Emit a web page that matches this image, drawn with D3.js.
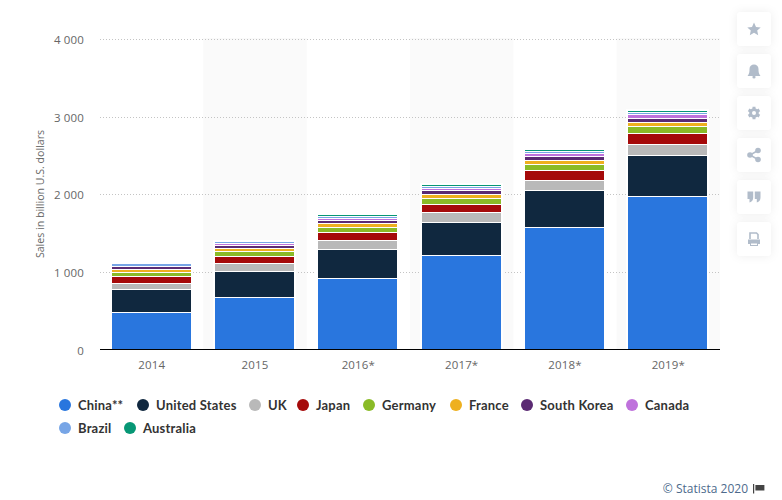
<!DOCTYPE html>
<html lang="en">
    <head>
        <title>E-commerce sales</title>
        <meta charset="UTF-8">
        <style>
            html, body { margin: 0; padding: 0; background: #fff; }
            svg { display: block; }
            text { font-family: "Open Sans", sans-serif; }
            .tick-label { font-size: 11.5px; fill: #666; letter-spacing: 0.15px; }
            .legend-label { font-family: Lato, sans-serif; font-size: 13px; font-weight: 700; fill: #333; letter-spacing: 0.2px; }
            .bar { shape-rendering: crispEdges; }
        </style>
        <script src="https://cdnjs.cloudflare.com/ajax/libs/d3/7.8.5/d3.min.js"></script>
    </head>
    <body>
        <svg id="vis"></svg>

        <script>
            var years = ["2014", "2015", "2016*", "2017*", "2018*", "2019*"];

            var china = [463, 656, 900, 1196, 1556, 1955];
            var unitedStates = [298, 337, 375, 425, 475, 528];
            var uk = [77, 103, 116, 129, 129, 141];
            var japan = [90, 90, 103, 103, 129, 141];
            var germany = [51, 64, 64, 77, 77, 90];
            var france = [39, 39, 51, 51, 51, 51];
            var southKorea = [39, 39, 39, 51, 51, 51];
            var canada = [0, 26, 26, 26, 39, 51];
            var brazil = [39, 26, 26, 26, 26, 26];
            var australia = [0, 0, 26, 26, 26, 26];

            var seriesNames = ["China**", "United States", "UK", "Japan", "Germany", "France", "South Korea", "Canada", "Brazil", "Australia"];
            var seriesValues = [china, unitedStates, uk, japan, germany, france, southKorea, canada, brazil, australia];
            var seriesColors = ["#2976de", "#10283f", "#b9b9b9", "#a50a0a", "#8abb27", "#eeb01f", "#5b2a73", "#bf72dc", "#77a5e6", "#079775"];
            var yTicks = [0, 1000, 2000, 3000, 4000];

            var table = years.map(function(year, i) {
                var row = {year: year};
                seriesNames.forEach(function(name, s) { row[name] = seriesValues[s][i]; });
                return row;
            });

            var svg = d3.select("#vis").attr("width", 782).attr("height", 500);

            var x = d3.scaleBand().domain(years).range([100, 720]).paddingInner(0.235).paddingOuter(0.1175);
            var y = d3.scaleLinear().domain([0, 4000]).range([349.5, 38.5]);

            // snap to whole pixels so the gaps between segments stay sharp
            var barLeft = function(year) { return Math.floor(x(year)); };
            var barWidth = Math.floor(x.bandwidth());
            var barY = function(v) { return Math.round(y(v) - 0.5); };
            var total = function(d) { return d3.sum(seriesNames, function(n) { return d[n]; }); };

            // alternating column shading
            svg.append("g").selectAll("rect")
                .data(years.filter(function(d, i) { return i % 2 == 1; }))
                .join("rect")
                .attr("x", function(d) { return x(d) - x.step() * 0.1175; })
                .attr("width", x.step())
                .attr("y", 38)
                .attr("height", 311)
                .attr("fill", "#fafafa");

            // grid
            svg.append("g").selectAll("line")
                .data(yTicks.slice(1))
                .join("line")
                .attr("x1", 100).attr("x2", 720)
                .attr("y1", function(d) { return Math.ceil(y(d)) + 0.5; })
                .attr("y2", function(d) { return Math.ceil(y(d)) + 0.5; })
                .attr("stroke", "#c4c4c4")
                .attr("stroke-dasharray", "1 2");

            // white halo behind each bar
            svg.append("g").selectAll("rect")
                .data(table)
                .join("rect")
                .attr("class", "bar")
                .attr("x", function(d) { return barLeft(d.year) - 2; })
                .attr("width", barWidth + 4)
                .attr("y", function(d) { return barY(total(d)) - 2; })
                .attr("height", function(d) { return barY(0) - barY(total(d)) + 2; })
                .attr("fill", "#fff");

            var stack = d3.stack().keys(seriesNames);

            // each segment leaves a 1px gap to the one below it
            svg.append("g").selectAll("g")
                .data(stack(table))
                .join("g")
                .attr("fill", function(d, i) { return seriesColors[i]; })
                .selectAll("rect")
                .data(function(d) { return d.filter(function(p) { return p[1] > p[0]; }); })
                .join("rect")
                .attr("class", "bar")
                .attr("x", function(d) { return barLeft(d.data.year); })
                .attr("width", barWidth)
                .attr("y", function(d) { return barY(d[1]); })
                .attr("height", function(d) {
                    var gap = d[0] > 0 ? 1 : 0;
                    return barY(d[0]) - barY(d[1]) - gap;
                });

            // baseline
            svg.append("line")
                .attr("x1", 100).attr("x2", 720)
                .attr("y1", 349.5).attr("y2", 349.5)
                .attr("stroke", "#000").attr("stroke-width", 1);

            var numFormat = function(d) { return d3.format(",")(d).replace(",", " "); };

            svg.append("g").selectAll("text")
                .data(yTicks)
                .join("text")
                .attr("class", "tick-label")
                .attr("x", 84)
                .attr("y", function(d) { return Math.ceil(y(d)) + 4.5; })
                .attr("text-anchor", "end")
                .text(numFormat);

            svg.append("g").selectAll("text")
                .data(years)
                .join("text")
                .attr("class", "tick-label")
                .attr("x", function(d) { return x(d) + x.bandwidth() / 2; })
                .attr("y", 369)
                .attr("text-anchor", "middle")
                .text(function(d) { return d; });

            svg.append("text")
                .attr("transform", "translate(44,194) rotate(-90)")
                .attr("text-anchor", "middle")
                .attr("font-size", 10.6)
                .attr("fill", "#666")
                .text("Sales in billion U.S. dollars");

            // legend, laid out in two rows like the original
            var legendX = [65, 143, 255, 303, 369, 456, 527, 632, 65, 130];
            var legendY = [405, 405, 405, 405, 405, 405, 405, 405, 428, 428];
            var legend = svg.append("g").selectAll("g")
                .data(seriesNames)
                .join("g")
                .attr("transform", function(d, i) { return "translate(" + legendX[i] + "," + legendY[i] + ")"; });
            legend.append("circle").attr("r", 6).attr("fill", function(d, i) { return seriesColors[i]; });
            legend.append("text")
                .attr("class", "legend-label")
                .attr("x", 13)
                .attr("y", 4.5)
                .text(function(d) { return d; });

            svg.append("text")
                .attr("x", 748).attr("y", 493)
                .attr("text-anchor", "end")
                .attr("font-size", 12)
                .attr("fill", "#4d6a8c")
                .text("© Statista 2020");

            // flag next to the credit
            var flag = svg.append("g").attr("transform", "translate(753,484)").attr("fill", "#444");
            flag.append("rect").attr("width", 1.2).attr("height", 9.5);
            flag.append("rect").attr("x", 2.4).attr("y", 1).attr("width", 9).attr("height", 5.5);

            // toolbar on the right
            var defs = svg.append("defs");
            var shadow = defs.append("filter").attr("id", "card").attr("x", "-50%").attr("y", "-50%").attr("width", "200%").attr("height", "200%");
            shadow.append("feDropShadow").attr("dx", 0).attr("dy", 0).attr("stdDeviation", 5).attr("flood-color", "#000").attr("flood-opacity", 0.07);

            var tools = ["star", "bell", "gear", "share", "quote", "print"];
            var iconColor = "#b1bcca";
            var card = svg.append("g").selectAll("g")
                .data(tools)
                .join("g")
                .attr("transform", function(d, i) { return "translate(754," + (29 + i * 42) + ")"; });
            card.append("rect")
                .attr("x", -17).attr("y", -17).attr("width", 34).attr("height", 34).attr("rx", 4)
                .attr("fill", "#fff").attr("filter", "url(#card)");

            card.each(function(d) {
                var g = d3.select(this).attr("fill", iconColor);
                if (d == "star") {
                    g.append("path").attr("d", "M0,-6.5 L2,-2 L6.7,-1.6 L3.2,1.5 L4.2,6.2 L0,3.7 L-4.2,6.2 L-3.2,1.5 L-6.7,-1.6 L-2,-2 Z");
                } else if (d == "bell") {
                    g.append("path").attr("d", "M-6.5,5 C-4.5,3 -4.5,0 -4.5,-2 C-4.5,-5 -2.5,-6.5 0,-6.5 C2.5,-6.5 4.5,-5 4.5,-2 C4.5,0 4.5,3 6.5,5 Z");
                    g.append("circle").attr("cy", 6).attr("r", 1.6);
                } else if (d == "gear") {
                    g.append("path").attr("d", d3.symbol(d3.symbolAsterisk, 110)()).attr("stroke", iconColor).attr("stroke-width", 3);
                    g.append("circle").attr("r", 4.8);
                    g.append("circle").attr("r", 2).attr("fill", "#fff");
                } else if (d == "share") {
                    g.append("path").attr("d", "M4,-4.5 L-4,0 L4,4.5").attr("fill", "none").attr("stroke", iconColor).attr("stroke-width", 1.5);
                    g.append("circle").attr("cx", 4).attr("cy", -4.5).attr("r", 2.8);
                    g.append("circle").attr("cx", -4).attr("cy", 0).attr("r", 2.8);
                    g.append("circle").attr("cx", 4).attr("cy", 4.5).attr("r", 2.8);
                } else if (d == "quote") {
                    g.append("path").attr("d", "M-6.5,-5.5 H-0.8 V0.5 C-0.8,3 -2,5 -4.5,5.5 V2 H-6.5 Z M0.8,-5.5 H6.5 V0.5 C6.5,3 5.3,5 2.8,5.5 V2 H0.8 Z");
                } else {
                    g.append("path").attr("d", "M-4,0 V-6 H2.5 L4,-4.5 V0").attr("fill", "none").attr("stroke", iconColor).attr("stroke-width", 1.6);
                    g.append("rect").attr("x", -6).attr("y", 0.5).attr("width", 12).attr("height", 4.5);
                    g.append("rect").attr("x", -3.5).attr("y", 4).attr("width", 7).attr("height", 2.5).attr("fill", "#fff").attr("stroke", iconColor);
                }
            });
        </script>
    </body>
</html>
